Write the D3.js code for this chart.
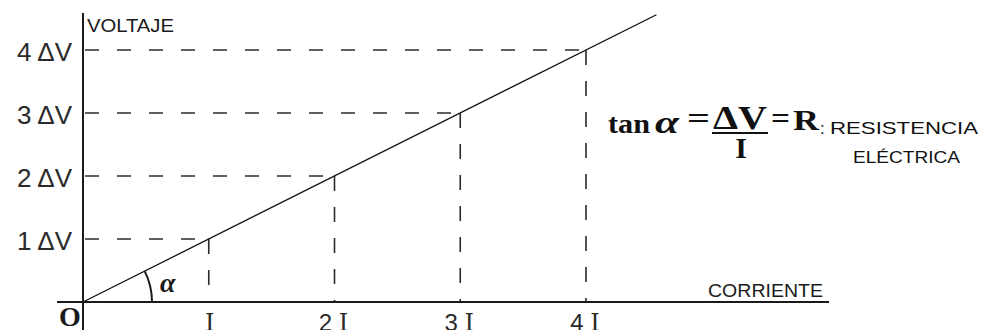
<!DOCTYPE html>
<html>
<head>
<meta charset="utf-8">
<script src="https://cdn.jsdelivr.net/npm/d3@7"></script>
<style>
  html, body { margin: 0; padding: 0; background: #fff; overflow: hidden; }
  svg { display: block; }
</style>
</head>
<body>
<svg id="chart" width="982" height="330"></svg>
<script>
// Ohm's law: voltage grows linearly with current, V = R · I
const currentSteps = [1, 2, 3, 4];            // multiples of I
const currentPrefixes = ["", "2", "3", "4"];  // drawn before the "I"
const voltageSteps = [1, 2, 3, 4];            // multiples of ΔV
const voltageLabels = ["1 ΔV", "2 ΔV", "3 ΔV", "4 ΔV"];
const resistance = 1;                         // ΔV per I
const lineCurrent = [0, 4.56];                // extent of the drawn V–I line
const xTitle = "CORRIENTE";
const yTitle = "VOLTAJE";

const svg = d3.select("#chart");
const ink = "#1a1a1a";
const sans = "'Liberation Sans', Arial, sans-serif";
const serif = "'Liberation Serif', 'Times New Roman', serif";

// scales: origin at (83, 302)
const x = d3.scaleLinear().domain([0, 4]).range([83, 586]);
const y = d3.scaleLinear().domain([0, 4]).range([302, 50]);

// guide lines from each point to both axes
const pts = currentSteps.map((c, i) => ({ c, v: voltageSteps[i] }));
svg.append("g").selectAll("line.h").data(pts).join("line")
  .attr("x1", x(0) + 2).attr("x2", d => x(d.c))
  .attr("y1", d => y(d.v)).attr("y2", d => y(d.v))
  .attr("stroke", "#2a2a2a").attr("stroke-width", 1.6)
  .attr("stroke-dasharray", "14,18");
svg.append("g").selectAll("line.v").data(pts).join("line")
  .attr("x1", d => x(d.c)).attr("x2", d => x(d.c))
  .attr("y1", d => y(d.v)).attr("y2", y(0))
  .attr("stroke", "#2a2a2a").attr("stroke-width", 1.6)
  .attr("stroke-dasharray", "15,16");

// axes
svg.append("line")
  .attr("x1", 57).attr("x2", 829).attr("y1", y(0)).attr("y2", y(0))
  .attr("stroke", ink).attr("stroke-width", 2);
svg.append("line")
  .attr("x1", x(0)).attr("x2", x(0)).attr("y1", 13).attr("y2", 330)
  .attr("stroke", ink).attr("stroke-width", 2);

// the V–I line
const line = d3.line().x(d => x(d)).y(d => y(resistance * d));
svg.append("path").datum(lineCurrent)
  .attr("d", line)
  .attr("fill", "none").attr("stroke", "#111").attr("stroke-width", 1.3);

// angle arc α
const slopeAngle = Math.atan2(y(0) - y(resistance), x(1) - x(0));
const r = 69;
const arcPath = d3.path();
arcPath.moveTo(x(0) + r, y(0));
arcPath.arc(x(0), y(0), r, 0, -slopeAngle, true);
svg.append("path").attr("d", arcPath.toString())
  .attr("fill", "none").attr("stroke", ink).attr("stroke-width", 2);
svg.append("text").attr("x", 160).attr("y", 292)
  .attr("font-family", serif).attr("font-weight", "bold").attr("font-style", "italic")
  .attr("font-size", 28).attr("fill", ink).text("α");

// origin label
svg.append("text").attr("x", 70).attr("y", 326)
  .attr("text-anchor", "middle")
  .attr("font-family", serif).attr("font-weight", "bold")
  .attr("font-size", 28).attr("fill", ink).text("O");

// y tick labels
svg.append("g").selectAll("text").data(voltageSteps).join("text")
  .attr("x", 72).attr("y", d => y(d) + 11)
  .attr("text-anchor", "end")
  .attr("font-family", sans).attr("font-size", 26).attr("fill", "#2b2b2b")
  .text((d, i) => voltageLabels[i]);

// x tick labels: digit in sans, "I" in serif
const xl = svg.append("g").selectAll("text").data(currentSteps).join("text")
  .attr("x", (d, i) => x(d) + (currentPrefixes[i] ? -1 : 1))
  .attr("y", 331)
  .attr("text-anchor", "middle")
  .attr("fill", "#2b2b2b");
xl.append("tspan")
  .attr("font-family", sans).attr("font-size", 24)
  .text((d, i) => currentPrefixes[i] ? currentPrefixes[i] + " " : "");
xl.append("tspan")
  .attr("font-family", "'DejaVu Serif', serif").attr("font-size", 24)
  .text("I");

// axis titles
svg.append("text").attr("x", 87).attr("y", 32)
  .attr("font-family", sans).attr("font-size", 18).attr("fill", ink)
  .attr("textLength", 87).attr("lengthAdjust", "spacingAndGlyphs")
  .text(yTitle);
svg.append("text").attr("x", 708).attr("y", 297)
  .attr("font-family", sans).attr("font-size", 18).attr("fill", ink)
  .attr("textLength", 115).attr("lengthAdjust", "spacingAndGlyphs")
  .text(xTitle);

// formula: tan α = ΔV / I = R : resistencia eléctrica
const f = svg.append("g").attr("fill", "#111");
f.append("text").attr("x", 608).attr("y", 133)
  .attr("font-family", serif).attr("font-weight", "bold").attr("font-size", 28)
  .attr("textLength", 42).attr("lengthAdjust", "spacingAndGlyphs").text("tan");
f.append("text").attr("x", 655).attr("y", 133)
  .attr("font-family", serif).attr("font-weight", "bold").attr("font-style", "italic")
  .attr("font-size", 32).attr("textLength", 24).attr("lengthAdjust", "spacingAndGlyphs").text("α");
f.append("text").attr("x", 687).attr("y", 128)
  .attr("font-family", serif).attr("font-weight", "bold").attr("font-size", 30)
  .attr("textLength", 23).attr("lengthAdjust", "spacingAndGlyphs").text("=");
f.append("text").attr("x", 713).attr("y", 129)
  .attr("font-family", serif).attr("font-weight", "bold").attr("font-size", 34)
  .attr("textLength", 54).attr("lengthAdjust", "spacingAndGlyphs").text("ΔV");
f.append("line").attr("x1", 712).attr("x2", 768).attr("y1", 133).attr("y2", 133)
  .attr("stroke", "#111").attr("stroke-width", 2);
f.append("text").attr("x", 741).attr("y", 158).attr("text-anchor", "middle")
  .attr("font-family", serif).attr("font-weight", "bold").attr("font-size", 30).text("I");
f.append("text").attr("x", 771).attr("y", 128)
  .attr("font-family", serif).attr("font-weight", "bold").attr("font-size", 30)
  .attr("textLength", 19).attr("lengthAdjust", "spacingAndGlyphs").text("=");
f.append("text").attr("x", 793).attr("y", 130)
  .attr("font-family", serif).attr("font-weight", "bold").attr("font-size", 30)
  .attr("textLength", 26).attr("lengthAdjust", "spacingAndGlyphs").text("R");
f.append("text").attr("x", 820).attr("y", 134)
  .attr("font-family", sans).attr("font-size", 17).text(":");
f.append("text").attr("x", 830).attr("y", 134)
  .attr("font-family", sans).attr("font-size", 17)
  .attr("textLength", 148).attr("lengthAdjust", "spacingAndGlyphs").text("RESISTENCIA");
f.append("text").attr("x", 853).attr("y", 163)
  .attr("font-family", sans).attr("font-size", 17)
  .attr("textLength", 107).attr("lengthAdjust", "spacingAndGlyphs").text("ELÉCTRICA");
</script>
</body>
</html>
